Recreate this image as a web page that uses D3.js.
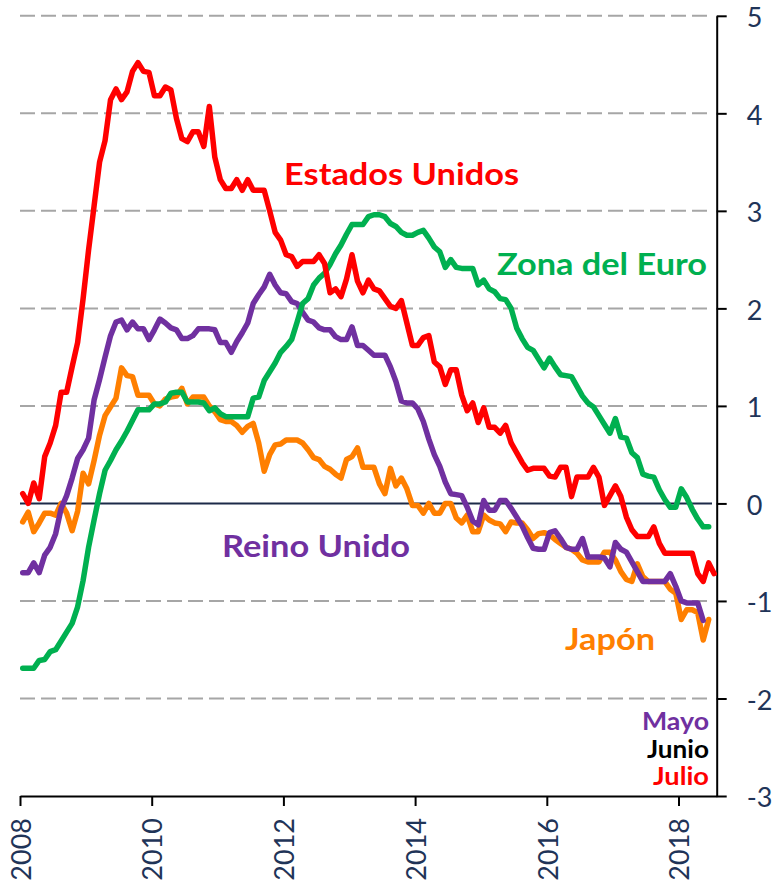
<!DOCTYPE html>
<html>
<head>
<meta charset="utf-8">
<script src="https://cdn.jsdelivr.net/npm/d3@7/dist/d3.min.js"></script>
<style>
  body { margin: 0; background: #fff; }
  text { font-family: Lato, "Open Sans", sans-serif; }
</style>
</head>
<body>
<div id="chart"></div>
<script>
let width = 773;
let height = 884;

// monthly values, first point = Jan 2008
const startYear = 2008;

const usData = [0.10,0.00,0.21,0.05,0.48,0.62,0.80,1.14,1.14,1.40,
  1.65,2.10,2.60,3.05,3.50,3.72,4.14,4.25,4.14,4.22,
  4.43,4.52,4.43,4.42,4.18,4.18,4.27,4.24,3.95,3.74,
  3.71,3.81,3.81,3.66,4.07,3.55,3.32,3.23,3.23,3.32,
  3.21,3.32,3.21,3.21,3.21,3.00,2.78,2.70,2.55,2.53,
  2.43,2.48,2.48,2.48,2.55,2.46,2.16,2.20,2.12,2.30,
  2.55,2.28,2.16,2.29,2.20,2.18,2.10,2.02,2.00,2.08,
  1.85,1.62,1.62,1.70,1.72,1.45,1.40,1.22,1.37,1.37,
  1.11,0.95,1.03,0.83,0.98,0.78,0.78,0.72,0.80,0.62,
  0.52,0.42,0.34,0.36,0.36,0.36,0.28,0.27,0.37,0.37,
  0.07,0.27,0.27,0.27,0.37,0.27,-0.02,0.08,0.18,0.07,
  -0.14,-0.27,-0.34,-0.34,-0.34,-0.24,-0.41,-0.51,-0.51,-0.51,
  -0.51,-0.51,-0.51,-0.72,-0.80,-0.61,-0.72];

const euroData = [-1.69,-1.69,-1.69,-1.61,-1.60,-1.52,-1.50,-1.41,-1.32,-1.23,
  -1.06,-0.79,-0.45,-0.17,0.10,0.34,0.44,0.55,0.64,0.74,
  0.85,0.96,0.96,0.96,1.02,1.02,1.04,1.13,1.14,1.14,
  1.04,1.04,1.04,1.03,0.95,0.98,0.92,0.89,0.89,0.89,
  0.89,0.89,1.08,1.09,1.26,1.35,1.44,1.55,1.61,1.68,
  1.86,2.05,2.10,2.24,2.31,2.36,2.45,2.56,2.65,2.76,
  2.86,2.86,2.86,2.94,2.96,2.96,2.94,2.87,2.84,2.78,
  2.75,2.75,2.78,2.80,2.72,2.63,2.58,2.42,2.50,2.42,
  2.41,2.41,2.41,2.24,2.29,2.20,2.17,2.10,2.09,2.00,
  1.80,1.69,1.60,1.57,1.48,1.39,1.49,1.40,1.32,1.31,
  1.30,1.20,1.10,1.03,0.99,0.90,0.81,0.72,0.87,0.68,
  0.67,0.52,0.47,0.30,0.28,0.27,0.14,0.04,-0.04,-0.04,
  0.15,0.06,-0.06,-0.16,-0.24,-0.24];

const ukData = [-0.71,-0.71,-0.61,-0.71,-0.53,-0.45,-0.31,-0.05,0.08,0.26,
  0.46,0.55,0.67,1.06,1.27,1.50,1.72,1.86,1.88,1.78,
  1.86,1.79,1.79,1.68,1.78,1.89,1.85,1.80,1.78,1.69,
  1.69,1.72,1.79,1.79,1.79,1.78,1.65,1.65,1.55,1.66,
  1.75,1.85,2.05,2.14,2.22,2.35,2.24,2.16,2.15,2.07,
  2.05,1.96,1.88,1.86,1.80,1.78,1.78,1.71,1.68,1.68,
  1.81,1.62,1.62,1.57,1.52,1.52,1.52,1.40,1.25,1.05,
  1.03,1.03,0.97,0.84,0.66,0.50,0.38,0.22,0.10,0.09,
  0.08,-0.04,-0.18,-0.22,0.03,-0.07,-0.07,0.03,0.03,-0.05,
  -0.14,-0.23,-0.35,-0.46,-0.47,-0.47,-0.30,-0.28,-0.36,-0.45,
  -0.47,-0.47,-0.36,-0.55,-0.55,-0.55,-0.56,-0.65,-0.40,-0.47,
  -0.50,-0.60,-0.70,-0.80,-0.80,-0.80,-0.80,-0.80,-0.72,-0.85,
  -1.00,-1.02,-1.02,-1.02,-1.20];

const japanData = [-0.19,-0.09,-0.29,-0.20,-0.10,-0.10,-0.12,0.00,-0.10,-0.28,
  -0.08,0.31,0.20,0.44,0.70,0.90,0.99,1.08,1.39,1.31,
  1.30,1.11,1.11,1.11,1.02,1.00,1.07,1.09,1.10,1.18,
  1.02,1.09,1.09,1.09,1.00,0.94,0.86,0.84,0.84,0.80,
  0.73,0.79,0.82,0.62,0.33,0.50,0.60,0.61,0.65,0.65,
  0.65,0.62,0.55,0.47,0.45,0.38,0.35,0.30,0.26,0.45,
  0.48,0.57,0.37,0.37,0.37,0.20,0.10,0.36,0.18,0.26,
  0.15,-0.02,-0.02,-0.10,0.00,-0.10,-0.10,0.00,0.00,-0.15,
  -0.20,-0.12,-0.29,-0.29,-0.12,-0.17,-0.20,-0.21,-0.29,-0.19,
  -0.20,-0.20,-0.27,-0.36,-0.31,-0.30,-0.32,-0.37,-0.41,-0.45,
  -0.47,-0.51,-0.58,-0.60,-0.60,-0.60,-0.50,-0.50,-0.58,-0.70,
  -0.78,-0.80,-0.62,-0.75,-0.80,-0.80,-0.80,-0.80,-0.88,-0.92,
  -1.19,-1.09,-1.09,-1.12,-1.40,-1.19];

const yearTicks = [2008, 2010, 2012, 2014, 2016, 2018];
const valueTicks = [-3, -2, -1, 0, 1, 2, 3, 4, 5];
const gridValues = [-2, -1, 1, 2, 3, 4, 5];

const monthNames = ["Mayo", "Junio", "Julio"];

let svg = d3.select("#chart").append("svg")
  .attr("width", width)
  .attr("height", height)

// scales
var x = d3.scaleLinear()
  .domain([2008, 2018.58])
  .range([20, 716.7]);

var y = d3.scaleLinear()
  .domain([-3, 5])
  .range([796, 15.8]);

// dashed gridlines
svg.append("g")
  .selectAll("line")
  .data(gridValues)
  .enter()
  .append("line")
  .attr("x1", 20)
  .attr("x2", 712)
  .attr("y1", d => y(d))
  .attr("y2", d => y(d))
  .attr("stroke", "#a6a6a6")
  .attr("stroke-width", 2)
  .attr("stroke-dasharray", "15,6");

// zero line
svg.append("line")
  .attr("x1", 20)
  .attr("x2", 712)
  .attr("y1", y(0))
  .attr("y2", y(0))
  .attr("stroke", "#1c2a48")
  .attr("stroke-width", 2);

// right axis
let yAxis = svg.append("g")
  .attr("transform", "translate(" + x.range()[1] + ",0)")
  .call(d3.axisRight(y)
    .tickValues(valueTicks)
    .tickSize(10)
    .tickSizeOuter(0)
    .tickPadding(20)
    .tickFormat(d => String(d)));

yAxis.selectAll("text").attr("dy", "0.4em");

// bottom axis
let xAxis = svg.append("g")
  .attr("transform", "translate(0," + y(-3) + ")")
  .call(d3.axisBottom(x)
    .tickValues(yearTicks)
    .tickSize(10)
    .tickSizeOuter(0)
    .tickFormat(d3.format("d")));

xAxis.selectAll("text")
  .attr("transform", "rotate(-90)")
  .attr("x", -22)
  .attr("y", 0)
  .attr("dy", "0.38em")
  .style("text-anchor", "end");

[xAxis, yAxis].forEach(function (ax) {
  ax.select(".domain").attr("stroke", "#000").attr("stroke-width", 2);
  ax.selectAll(".tick line").attr("stroke", "#000").attr("stroke-width", 2);
  ax.selectAll(".tick text")
    .attr("fill", "#1f3458")
    .style("font-size", "27px");
});

// series lines
var line = d3.line()
  .x((d, i) => x(startYear + (i + 0.5) / 12))
  .y(d => y(d));

const series = [
  { values: japanData, color: "#ff7f00" },
  { values: ukData, color: "#7030a0" },
  { values: euroData, color: "#00b050" },
  { values: usData, color: "#ff0000" }
];

svg.append("g")
  .selectAll("path")
  .data(series)
  .enter()
  .append("path")
  .attr("d", d => line(d.values))
  .attr("fill", "none")
  .attr("stroke", d => d.color)
  .attr("stroke-width", 5.5)
  .attr("stroke-linejoin", "round")
  .attr("stroke-linecap", "round");

// series names
const labels = [
  { text: "Estados Unidos", x: 284, y: 185, w: 235, color: "#ff0000" },
  { text: "Zona del Euro", x: 497, y: 275, w: 210, color: "#00b050" },
  { text: "Reino Unido", x: 222, y: 557, w: 188, color: "#7030a0" },
  { text: "Japón", x: 565, y: 650, w: 90, color: "#ff7f00" }
];

svg.append("g")
  .selectAll("text")
  .data(labels)
  .enter()
  .append("text")
  .attr("x", d => d.x)
  .attr("y", d => d.y)
  .attr("fill", d => d.color)
  .attr("textLength", d => d.w)
  .attr("lengthAdjust", "spacingAndGlyphs")
  .style("font-size", "31px")
  .style("font-weight", "bold")
  .text(d => d.text);

// last data month note
const noteColors = ["#7030a0", "#000000", "#ff0000"];
const noteWidths = [67, 62, 56];
svg.append("g")
  .selectAll("text")
  .data(monthNames)
  .enter()
  .append("text")
  .attr("x", (d, i) => 709 - noteWidths[i])
  .attr("y", (d, i) => 730 + i * 27.5)
  .attr("fill", (d, i) => noteColors[i])
  .attr("textLength", (d, i) => noteWidths[i])
  .attr("lengthAdjust", "spacingAndGlyphs")
  .style("font-size", "25px")
  .style("font-weight", "bold")
  .text(d => d);
</script>
</body>
</html>
